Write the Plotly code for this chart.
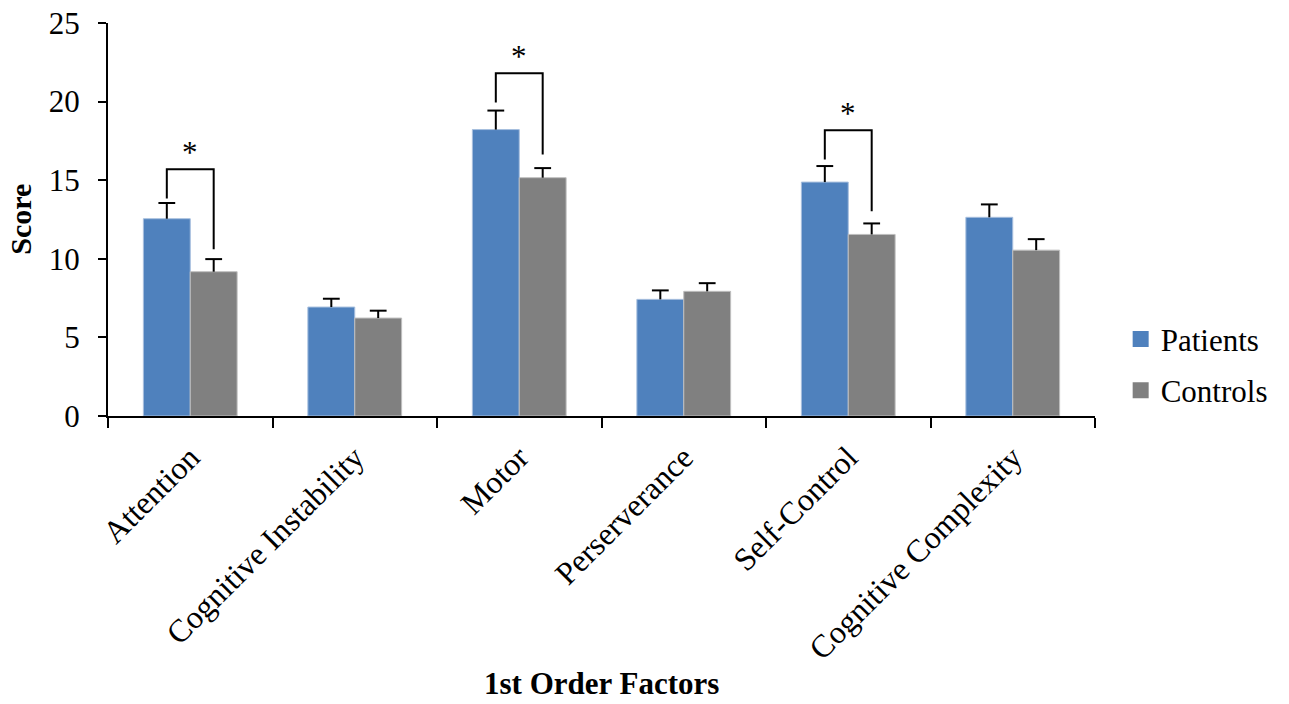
import plotly.graph_objects as go

factors = ["Attention", "Cognitive Instability", "Motor", "Perserverance",
           "Self-Control", "Cognitive Complexity"]
patients = [12.55, 6.93, 18.22, 7.42, 14.88, 12.64]
patients_err = [1.00, 0.53, 1.21, 0.57, 1.02, 0.82]
controls = [9.18, 6.23, 15.16, 7.93, 11.55, 10.55]
controls_err = [0.80, 0.47, 0.61, 0.52, 0.70, 0.70]

sig_factors = ["Attention", "Motor", "Self-Control"]
bracket_top = [15.69, 21.80, 18.17]
bracket_left_bottom = [13.84, 19.94, 16.31]
bracket_right_bottom = [10.60, 16.63, 13.02]

y_ticks = [0, 5, 10, 15, 20, 25]

FONT = "Liberation Serif, Times New Roman, serif"
BLUE = "#4F81BD"
GRAY = "#808080"
BARGAP = 0.43
half = (1 - BARGAP) / 4  # bar-centre offset in category units

fig = go.Figure()
for nm, vals, errs, col, edge in [("Patients", patients, patients_err, BLUE, "#A7BFDE"),
                                  ("Controls", controls, controls_err, GRAY, "#BFBFBF")]:
    fig.add_trace(go.Bar(
        name=nm, x=factors, y=vals, marker_color=col,
        marker_line=dict(color=edge, width=1), showlegend=False,
        error_y=dict(type="data", array=errs, arrayminus=[0] * len(factors),
                     symmetric=False, color="black", thickness=2, width=0),
    ))

# error bar caps
cap_x, cap_y = [], []
for i in range(len(factors)):
    cap_x += [i - half, i + half]
    cap_y += [patients[i] + patients_err[i], controls[i] + controls_err[i]]
fig.add_trace(go.Scatter(
    x=cap_x, y=cap_y, mode="markers", xaxis="x2", showlegend=False, hoverinfo="skip",
    marker=dict(symbol="line-ew", size=12, color="black", line=dict(color="black", width=2)),
))

# significance brackets on an overlaid numeric axis matching category indices
for name, top, lb, rb in zip(sig_factors, bracket_top, bracket_left_bottom, bracket_right_bottom):
    i = factors.index(name)
    fig.add_trace(go.Scatter(
        x=[i - half, i - half, i + half, i + half], y=[lb, top, top, rb],
        mode="lines", line=dict(color="black", width=2), xaxis="x2",
        showlegend=False, hoverinfo="skip",
    ))
    fig.add_annotation(x=i, y=top, xref="x2", yref="y", text="*", showarrow=False,
                       yanchor="bottom", yshift=-3,
                       font=dict(family=FONT, size=31, color="black"))

# legend entries
for nm, col, grp in [("Patients", BLUE, "a"), ("Controls", GRAY, "b")]:
    fig.add_trace(go.Scatter(
        x=[None], y=[None], mode="markers", name=nm, xaxis="x2", legendgroup=grp,
        marker=dict(symbol="square", size=16, color=col),
    ))

fig.update_layout(
    width=1289, height=704,
    margin=dict(l=108, r=194, t=23, b=288, autoexpand=False),
    plot_bgcolor="white", paper_bgcolor="white",
    barmode="group", bargap=BARGAP, bargroupgap=0,
    font=dict(family=FONT, size=31, color="black"),
    xaxis=dict(
        type="category", tickson="boundaries", ticks="outside", ticklen=10,
        tickwidth=2, tickcolor="black", showline=True, linecolor="black",
        linewidth=2, tickangle=-45, showgrid=False, zeroline=False,
        automargin=False, ticklabelstandoff=8,
        tickfont=dict(family=FONT, size=32, color="black"),
    ),
    xaxis2=dict(overlaying="x", range=[-0.5, len(factors) - 0.5], visible=False),
    yaxis=dict(
        range=[0, 25], tickvals=y_ticks, ticks="outside", ticklen=8, tickwidth=2,
        tickcolor="black", showline=True, linecolor="black", linewidth=2,
        showgrid=False, zeroline=False, ticklabelstandoff=12, automargin=False,
        tickfont=dict(family=FONT, size=31, color="black"),
    ),
    legend=dict(x=1.026, y=0.13, xanchor="left", yanchor="middle",
                font=dict(family=FONT, size=31, color="black"),
                tracegroupgap=8, traceorder="grouped", bgcolor="rgba(0,0,0,0)"),
    annotations=list(fig.layout.annotations) + [
        dict(text="<b>Score</b>", x=-0.089, y=0.5, xref="paper", yref="paper",
             textangle=-90, showarrow=False, xanchor="center", yanchor="middle",
             font=dict(family=FONT, size=30, color="black")),
        dict(text="<b>1st Order Factors</b>", x=0.5, y=-0.7303, xref="paper", yref="paper",
             showarrow=False, xanchor="center", yanchor="bottom",
             font=dict(family=FONT, size=31, color="black")),
    ],
)

fig.write_html("out.html", config={"displayModeBar": False},
               post_script="document.body.style.margin='0';")
